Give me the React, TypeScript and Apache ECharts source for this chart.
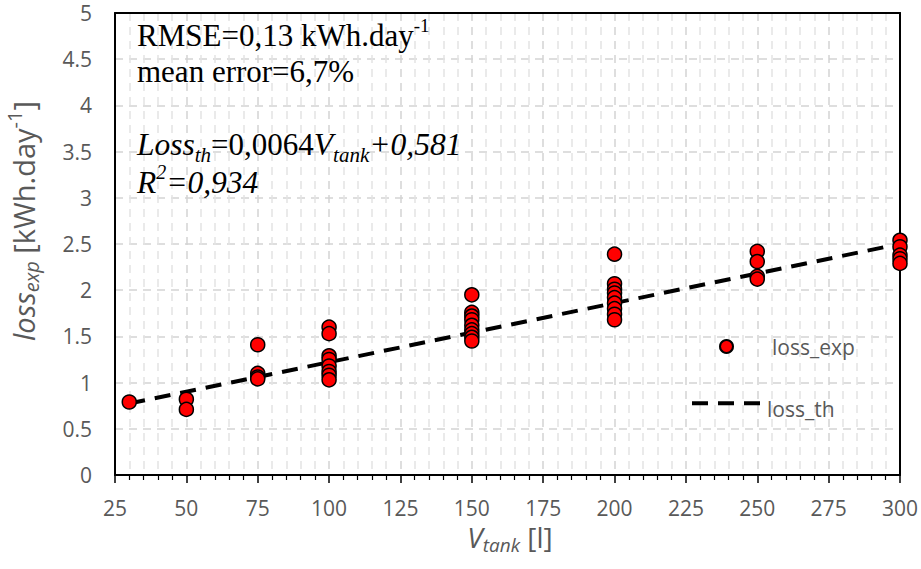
import React, { useEffect, useRef } from "react";
import * as echarts from "echarts";

// ---- data ----
const tankVolumes = [30, 50, 75, 100, 150, 200, 250, 300];
const lossExpGroups: number[][] = [
  [0.79],
  [0.82, 0.71],
  [1.41, 1.10, 1.06, 1.04],
  [1.60, 1.53, 1.29, 1.25, 1.18, 1.12, 1.08, 1.03],
  [1.95, 1.76, 1.72, 1.68, 1.62, 1.57, 1.53, 1.49, 1.45],
  [2.39, 2.07, 2.01, 1.97, 1.92, 1.86, 1.80, 1.74, 1.68],
  [2.42, 2.31, 2.15, 2.12],
  [2.54, 2.47, 2.38, 2.34, 2.29],
];
const lossThX = [30, 300];
const lossThY = [0.773, 2.501];
const xTicks = [25, 300, 25]; // min, max, interval
const yTicks = [0, 5, 0.5];

const SANS = '"Open Sans", "Noto Sans", sans-serif';
const SERIF = '"Liberation Serif", "DejaVu Serif", serif';
const GRAY = "#595959";

export default function App() {
  const ref = useRef<HTMLDivElement>(null);
  useEffect(() => {
    if (!ref.current) return;
    const chart = echarts.init(ref.current, null, { renderer: "svg" });

    const scatterData: number[][] = [];
    tankVolumes.forEach((v, i) => lossExpGroups[i].forEach((y) => scatterData.push([v, y])));
    const lineData = lossThX.map((x, i) => [x, lossThY[i]]);

    const LH = 32;
    const ann = {
      n: { fontFamily: SERIF, fontSize: 31, lineHeight: LH, fill: "#000" },
      i: { fontFamily: SERIF, fontSize: 31.5, fontStyle: "italic", lineHeight: LH, fill: "#000" },
      sub: { fontFamily: SERIF, fontSize: 21, fontStyle: "italic", lineHeight: LH, padding: [20, 0, 0, 0], fill: "#000" },
      sup: { fontFamily: SERIF, fontSize: 19, lineHeight: LH, padding: [0, 0, 20, 0], fill: "#000" },
      supi: { fontFamily: SERIF, fontSize: 20, fontStyle: "italic", lineHeight: LH, padding: [0, 0, 20, 0], fill: "#000" },
    };
    const axRich = (fs: number, lh: number) => ({
      n: { fontFamily: SANS, fontSize: fs, lineHeight: lh, fill: GRAY },
      i: { fontFamily: SANS, fontSize: fs, fontStyle: "italic", lineHeight: lh, fill: GRAY },
      sub: { fontFamily: SANS, fontSize: Math.round(fs * 0.68), fontStyle: "italic", lineHeight: lh, padding: [16, 0, 0, 0], fill: GRAY },
      sup: { fontFamily: SANS, fontSize: Math.round(fs * 0.68), lineHeight: lh, padding: [0, 0, 18, 0], fill: GRAY },
    });

    const borderAxis = {
      type: "value",
      axisLine: { show: true, onZero: false, lineStyle: { color: "#000", width: 2 } },
      axisTick: { show: false },
      axisLabel: { show: false },
      splitLine: { show: false },
      z: 1,
    };

    const option: any = {
      animation: false,
      grid: { left: 115, right: 20, top: 13, bottom: 94, show: false },
      xAxis: [
        {
          type: "value",
          min: xTicks[0],
          max: xTicks[1],
          interval: xTicks[2],
          axisLine: { show: true, onZero: false, lineStyle: { color: "#000", width: 2 } },
          axisTick: { show: true, inside: false, length: 8, lineStyle: { color: "#000", width: 1.5 } },
          minorTick: { show: true, splitNumber: 5, length: 5, lineStyle: { color: "#000", width: 1.2 } },
          axisLabel: { color: GRAY, fontSize: 21, fontFamily: SANS, margin: 22 },
          splitLine: { show: true, lineStyle: { color: "#d4d4d4", width: 1.5, type: [8, 6] } },
          minorSplitLine: { show: true, lineStyle: { color: "#e3e3e3", width: 1.5, type: [8, 6] } },
        },
        { ...borderAxis, position: "top", min: xTicks[0], max: xTicks[1], interval: xTicks[2] },
      ],
      yAxis: [
        {
          type: "value",
          min: yTicks[0],
          max: yTicks[1],
          interval: yTicks[2],
          axisLine: { show: true, onZero: false, lineStyle: { color: "#000", width: 2 } },
          axisTick: { show: false },
          axisLabel: { color: GRAY, fontSize: 21, fontFamily: SANS, margin: 23 },
          splitLine: { show: true, lineStyle: { color: "#d4d4d4", width: 1.5, type: [8, 6] } },
        },
        { ...borderAxis, position: "right", min: yTicks[0], max: yTicks[1], interval: yTicks[2] },
      ],
      legend: [
        {
          data: [{ name: "loss_exp", icon: "circle" }],
          left: 719,
          top: 336,
          padding: 0,
          itemWidth: 13,
          itemHeight: 13,
          itemGap: 0,
          textStyle: { color: GRAY, fontSize: 21, fontFamily: SANS, padding: [0, 0, 0, 34] },
          selectedMode: false,
        },
        {
          data: [{ name: "loss_th" }],
          left: 690,
          top: 398,
          padding: 0,
          itemWidth: 70,
          itemHeight: 13,
          itemGap: 0,
          formatter: "{a|{name}}",
          textStyle: {
            color: GRAY, fontSize: 21, fontFamily: SANS,
            rich: { a: { color: GRAY, fontSize: 21, fontFamily: SANS, padding: [12, 0, 0, 0] } },
          },
          lineStyle: { width: 4, color: "#000" },
          itemStyle: { opacity: 0 },
          selectedMode: false,
        },
      ],
      series: [
        {
          name: "loss_th",
          type: "line",
          data: lineData,
          showSymbol: false,
          symbol: "none",
          itemStyle: { color: "#000" },
          lineStyle: { color: "#000", width: 4, type: [16, 10] },
          z: 2,
        },
        {
          name: "loss_exp",
          type: "scatter",
          data: scatterData,
          symbol: "circle",
          symbolSize: 14,
          itemStyle: { color: "#ff0000", borderColor: "#000", borderWidth: 1.5, opacity: 1 },
          z: 3,
        },
      ],
      graphic: [
        {
          type: "text", left: 137, top: 16, z: 10,
          style: { text: "{n|RMSE=0,13 kWh.day}{sup|-1}", rich: ann },
        },
        {
          type: "text", left: 137, top: 56, z: 10,
          style: { text: "{n|mean error=6,7%}", rich: ann },
        },
        {
          type: "text", left: 137, top: 124, z: 10,
          style: { text: "{i|Loss}{sub|th}{n|=0,0064}{i|V}{sub|tank}{i|+0,581}", rich: ann },
        },
        {
          type: "text", left: 137, top: 162, z: 10,
          style: { text: "{i|R}{supi|2}{i|=0,934}", rich: ann },
        },
        {
          type: "text", x: 23, y: 221, rotation: Math.PI / 2, z: 10,
          style: { text: "{i|loss}{sub|exp}{n| [kWh.day}{sup|-1}{n|]}", rich: axRich(29, 28), align: "center", verticalAlign: "middle" },
        },
        {
          type: "text", x: 510, y: 537, z: 10,
          style: { text: "{i|V}{sub|tank}{n| [l]}", rich: axRich(28, 24), align: "center", verticalAlign: "middle" },
        },
      ],
    };
    chart.setOption(option);
    return () => chart.dispose();
  }, []);
  return <div ref={ref} style={{ width: 921, height: 569, position: "absolute", left: 0, top: 0 }} />;
}
